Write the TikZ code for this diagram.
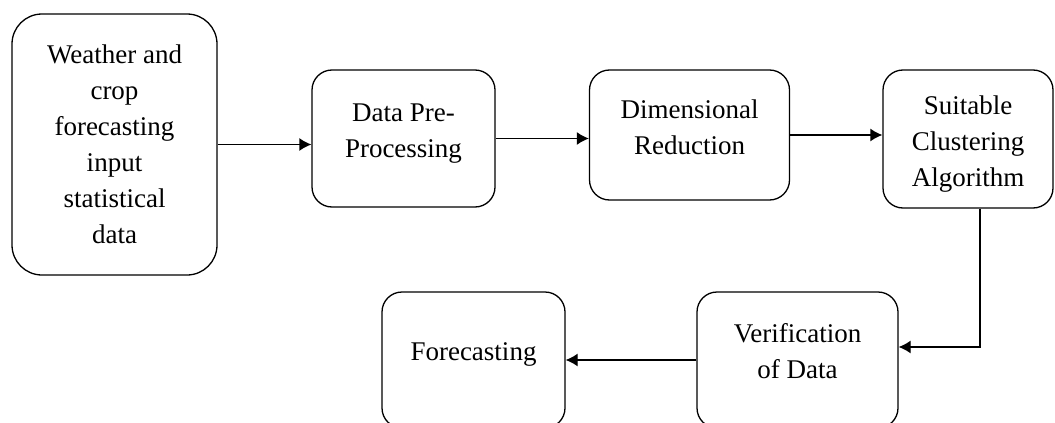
\documentclass[tikz,border=0pt]{standalone}
\usepackage{fontspec}
\setmainfont{Liberation Serif}
\usetikzlibrary{arrows.meta}

\begin{document}
\begin{tikzpicture}[x=1pt, y=-1pt, line width=1.3pt,
  box/.style={draw, rounded corners=20pt, align=center, inner sep=0pt,
    font=\fontsize{27}{36}\selectfont},
  arrow/.style={-{Latex[length=12pt,width=13pt]}}]

% fix the page
\useasboundingbox (0,0) rectangle (1055,423);

% the boxes
\node[box, rounded corners=30pt, minimum width=205pt, minimum height=261pt] (input) at (114.5,144.5) {Weather and\\crop\\forecasting\\input\\statistical\\data};
\node[box, minimum width=183pt, minimum height=137pt, text depth=16pt] (prep) at (403.5,138.5) {Data Pre-\\Processing};
\node[box, minimum width=200pt, minimum height=130pt, text depth=16pt] (dimred) at (689.5,135) {Dimensional\\Reduction};
\node[box, minimum width=170pt, minimum height=138pt, text height=100pt] (cluster) at (968,139) {Suitable\\Clustering\\Algorithm};
\node[box, minimum width=201pt, minimum height=136pt, text depth=18pt] (verif) at (797.5,360) {Verification\\of Data};
\node[box, minimum width=183pt, minimum height=136pt, text depth=16pt] (forecast) at (473.5,360) {Forecasting};

% the arrows
\draw[arrow] (input.east) -- (input.east -| prep.west);
\draw[arrow] (prep.east) -- (prep.east -| dimred.west);
\draw[arrow] (dimred.east) -- (dimred.east -| cluster.west);
\draw[arrow] ([xshift=12pt]cluster.south) |- ([yshift=13pt]verif.east);
\draw[arrow] (verif.west) -- (forecast.east);

\end{tikzpicture}
\end{document}
